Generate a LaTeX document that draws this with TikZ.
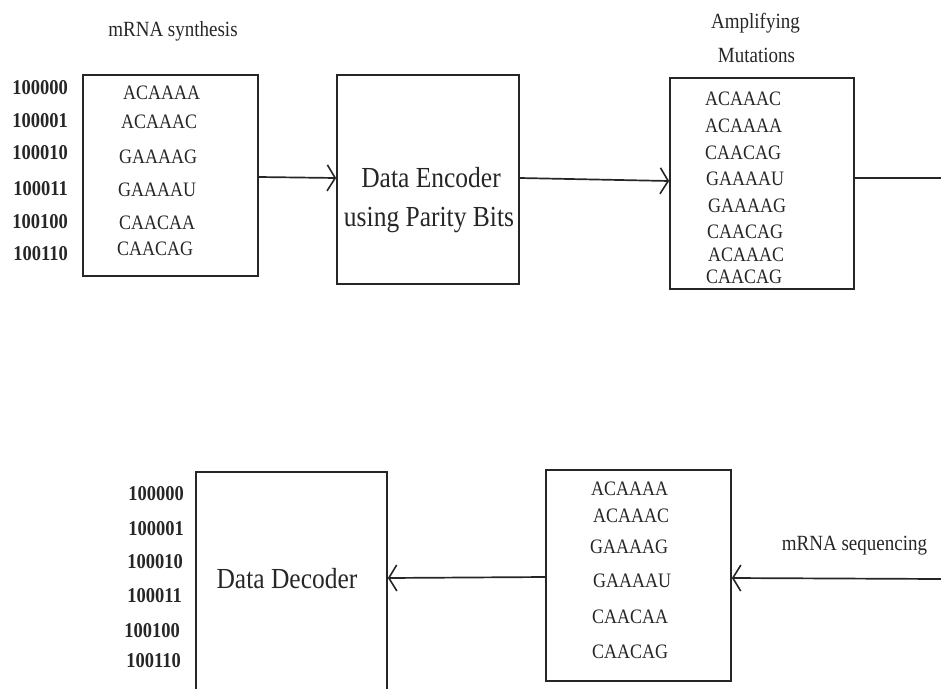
\documentclass[tikz,border=0pt]{standalone}
\usepackage{fontspec}
\setmainfont{Liberation Serif}
\usetikzlibrary{arrows.meta}
% slightly tall lettering
\newcommand\tallt[1]{\scalebox{1}[1.14]{#1}}
\begin{document}
\begin{tikzpicture}[x=1pt,y=-1pt,
  blk/.style={draw=black!85, line width=1.7pt, rectangle, inner sep=0pt, minimum width=#1},
  seq/.style={anchor=base west, inner sep=0pt, font=\fontsize{18}{20}\selectfont, text=black!85},
  num/.style={anchor=base east, inner sep=0pt, font=\fontsize{18.5}{20}\selectfont\bfseries, text=black!85},
  lbl/.style={anchor=base, inner sep=0pt, font=\fontsize{19}{21}\selectfont, text=black!85},
  big/.style={anchor=base, inner sep=0pt, font=\fontsize{25.5}{28}\selectfont, text=black!85},
  flow/.style={draw=black!85, line width=1.7pt},
  tip/.style={-{Straight Barb[length=8pt,width=26pt,line width=1.6pt]}}
]
\useasboundingbox (0,0) rectangle (941,688);
\clip (0,0) rectangle (941,688);

% blocks
\node[blk=175pt, minimum height=201pt] (b1) at (170.5,175.5) {};
\node[blk=182pt, minimum height=209pt] (b2) at (428,179.5) {};
\node[blk=184pt, minimum height=211pt] (b3) at (762,183.5) {};
\node[blk=191pt, minimum height=228pt] (b4) at (291.5,586) {};
\node[blk=185pt, minimum height=211pt] (b5) at (638.5,575.5) {};

% mRNA synthesis
\node[lbl] (t1) at (173,36) {\tallt{mRNA synthesis}};
\node[num] (n1) at (68,94) {\tallt{100000}};
\node[num] (n2) at (68,127) {\tallt{100001}};
\node[num] (n3) at (68,159) {\tallt{100010}};
\node[num] (n4) at (68,195) {\tallt{100011}};
\node[num] (n5) at (68,228) {\tallt{100100}};
\node[num] (n6) at (68,260) {\tallt{100110}};
\node[seq] (s1) at (123,99) {\tallt{ACAAAA}};
\node[seq] (s2) at (121,128) {\tallt{ACAAAC}};
\node[seq] (s3) at (119,163) {\tallt{GAAAAG}};
\node[seq] (s4) at (118,196) {\tallt{GAAAAU}};
\node[seq] (s5) at (119,229) {\tallt{CAACAA}};
\node[seq] (s6) at (117,255) {\tallt{CAACAG}};

% encoder
\node[big] (e1) at (431,187) {\tallt{Data Encoder}};
\node[big] (e2) at (429,226) {\tallt{using Parity Bits}};

% amplifying mutations
\node[lbl] (t2) at (755.5,28) {\tallt{Amplifying}};
\node[lbl] (t3) at (756.5,62) {\tallt{Mutations}};
\node[seq] (m1) at (705,105) {\tallt{ACAAAC}};
\node[seq] (m2) at (705,132) {\tallt{ACAAAA}};
\node[seq] (m3) at (705,159) {\tallt{CAACAG}};
\node[seq] (m4) at (706,185) {\tallt{GAAAAU}};
\node[seq] (m5) at (708,212) {\tallt{GAAAAG}};
\node[seq] (m6) at (707,238) {\tallt{CAACAG}};
\node[seq] (m7) at (708,261) {\tallt{ACAAAC}};
\node[seq] (m8) at (706,283) {\tallt{CAACAG}};

% sequencing
\node[lbl] (t4) at (854.5,550) {\tallt{mRNA sequencing}};
\node[seq] (q1) at (591,495) {\tallt{ACAAAA}};
\node[seq] (q2) at (593,522) {\tallt{ACAAAC}};
\node[seq] (q3) at (590,553) {\tallt{GAAAAG}};
\node[seq] (q4) at (593,587) {\tallt{GAAAAU}};
\node[seq] (q5) at (592,623) {\tallt{CAACAA}};
\node[seq] (q6) at (592,658) {\tallt{CAACAG}};

% decoder
\node[big] (d1) at (287,588) {\tallt{Data Decoder}};
\node[num] (o1) at (184,500) {\tallt{100000}};
\node[num] (o2) at (184,535) {\tallt{100001}};
\node[num] (o3) at (183,568) {\tallt{100010}};
\node[num] (o4) at (182,602) {\tallt{100011}};
\node[num] (o5) at (180,637) {\tallt{100100}};
\node[num] (o6) at (181,667) {\tallt{100110}};

% connectors
\coordinate (r1) at (941,178);
\coordinate (r2) at (941,579);
\draw[flow,tip] ([yshift=-1.5pt]b1.east) -- ([yshift=1.5pt]b2.west);
\draw[flow,tip] ([yshift=1.5pt]b2.east) -- ([yshift=2.5pt]b3.west);
\draw[flow] ([yshift=5.5pt]b3.east) -- (r1);
\draw[flow,tip] (r2) -- ([yshift=-2.5pt]b5.east);
\draw[flow,tip] ([yshift=-1.5pt]b5.west) -- ([yshift=8pt]b4.east);
\end{tikzpicture}
\end{document}
